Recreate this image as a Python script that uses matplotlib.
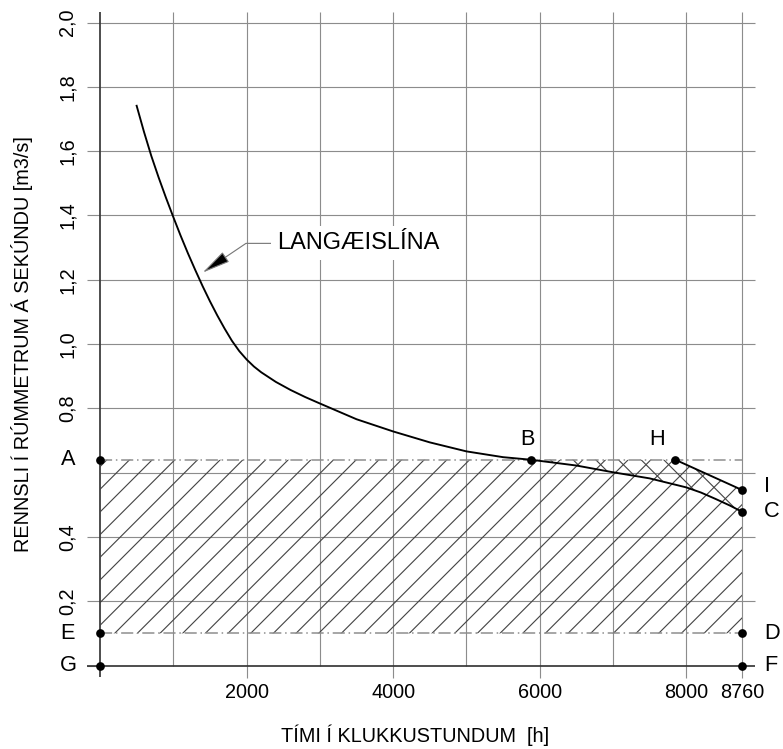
import numpy as np
import matplotlib.pyplot as plt

plt.rcParams['font.family'] = ['Liberation Sans', 'DejaVu Sans']
plt.rcParams['hatch.linewidth'] = 0.6

# duration curve (hours, m3/s)
hours = [500, 600, 700, 800, 900, 1000, 1100, 1200, 1300, 1400, 1500, 1600,
         1700, 1800, 1900, 2000, 2100, 2200, 2400, 2600, 2800, 3000, 3500, 4000,
         4500, 5000, 5500, 5880, 6500, 7000, 7500, 8000, 8200, 8400, 8600, 8760]
flow = [1.741, 1.66, 1.585, 1.518, 1.455, 1.395, 1.337, 1.282, 1.23, 1.18,
        1.133, 1.089, 1.048, 1.01, 0.978, 0.952, 0.93, 0.912, 0.882, 0.857,
        0.835, 0.815, 0.766, 0.728, 0.694, 0.666, 0.648, 0.64, 0.622, 0.601,
        0.582, 0.554, 0.538, 0.518, 0.497, 0.478]

level_A = 0.64     # A - B - H
level_E = 0.10     # E - D
level_I = 0.546    # I
t_B = 5880
t_H = 7850
t_end = 8760

grid_x = [1000, 2000, 3000, 4000, 5000, 6000, 7000, 8000, 8760]
grid_y = [0.2, 0.4, 0.6, 0.8, 1.0, 1.2, 1.4, 1.6, 1.8, 2.0]
xtick_vals = [2000, 4000, 6000, 8000, 8760]
xtick_labels = ['2000', '4000', '6000', '8000', '8760']
ytick_vals = [0.0, 0.2, 0.4, 0.8, 1.0, 1.2, 1.4, 1.6, 1.8, 2.0]
ytick_labels = ['', '0,2', '0,4', '0,8', '1,0', '1,2', '1,4', '1,6', '1,8', '2,0']

DPI = 136
W, H = 783, 749
fig = plt.figure(figsize=(W / DPI, H / DPI), dpi=DPI)
ax = fig.add_axes([100 / W, 1 - 665.5 / H, 642 / W, 643 / H])
ax.set_xlim(0, t_end)
ax.set_ylim(0, 2.0)
for s in ax.spines.values():
    s.set_visible(False)

px_x = t_end / 642.0
px_y = 2.0 / 643.0
pt = 72.0 / DPI
grid_c = '#8c8c8c'

# grid and axis lines (CAD style, overshooting the frame)
ax.hlines(grid_y, 0, t_end + 13 * px_x, colors=grid_c, lw=0.6, clip_on=False, zorder=1)
ax.vlines(grid_x, 0, 2.0 + 10.5 * px_y, colors=grid_c, lw=0.6, clip_on=False, zorder=1)
ax.vlines(0, -11.5 * px_y, 2.0 + 10.5 * px_y, colors='#333333', lw=0.9, clip_on=False, zorder=2)
ax.hlines(0, -13 * px_x, t_end + 13 * px_x, colors='#333333', lw=0.9, clip_on=False, zorder=2)

ax.set_xticks(xtick_vals, xtick_labels, fontsize=10.5)
ax.set_yticks(ytick_vals, ytick_labels, fontsize=10.5, rotation=90, va='center')
ax.tick_params(axis='x', length=12 * pt, width=0.6, color=grid_c, pad=5 * pt)
ax.tick_params(axis='y', length=13 * pt, width=0.6, color=grid_c, pad=10 * pt)

# hatched areas
ax.fill_between([0, t_H, t_end], level_E, [level_A, level_A, level_I],
                facecolor='none', edgecolor='#444444', hatch='//', linewidth=0, zorder=2)
tail = [i for i, h in enumerate(hours) if h >= t_B]
poly_x = [hours[i] for i in tail] + [t_end, t_H]
poly_y = [flow[i] for i in tail] + [level_I, level_A]
ax.fill(poly_x, poly_y, facecolor='none', edgecolor='#444444', hatch='\\\\',
        linewidth=0, zorder=2)

# dash-dot levels
dash = (0, (8, 2.5, 1, 2.5))
ax.hlines([level_A, level_E], 0, t_end, colors='#8c8c8c', lw=0.8, linestyles=[dash], zorder=3)

# curve and H-I line
ax.plot(hours, flow, color='black', lw=1.0, zorder=4)
ax.plot([t_H, t_end], [level_A, level_I], color='black', lw=1.0, zorder=4)

# points
pts_x = [0, 0, 0, t_B, t_H, t_end, t_end, t_end, t_end]
pts_y = [level_A, level_E, 0, level_A, level_A, level_I, flow[-1], level_E, 0]
ax.plot(pts_x, pts_y, 'o', color='black', ms=3.6, clip_on=False, zorder=5)

fs_letter = 11.5
for name, yv in [('A', level_A), ('E', level_E), ('G', 0)]:
    ax.annotate(name, (0, yv), xytext=(-32 * pt, 0), textcoords='offset points',
                ha='center', va='center', fontsize=fs_letter, annotation_clip=False)
for name, yv, dy in [('I', level_I, 3), ('C', flow[-1], 0), ('D', level_E, 0), ('F', 0, 0)]:
    ax.annotate(name, (t_end, yv), xytext=(22 * pt, dy * pt), textcoords='offset points',
                ha='left', va='center', fontsize=fs_letter, annotation_clip=False)
ax.annotate('B', (t_B, level_A), xytext=(-3 * pt, 20 * pt), textcoords='offset points',
            ha='center', va='center', fontsize=fs_letter)
ax.annotate('H', (t_H, level_A), xytext=(-18 * pt, 20 * pt), textcoords='offset points',
            ha='center', va='center', fontsize=fs_letter)

# leader to the curve
ax.annotate('LANGÆISLÍNA', xy=(1400, 1.222), xytext=(2420, 1.313),
            ha='left', va='center', fontsize=12.5, zorder=6,
            bbox=dict(boxstyle='square,pad=0.25', fc='white', ec='none'),
            arrowprops=dict(arrowstyle='-|>,head_length=1.3,head_width=0.27',
                            connectionstyle='angle,angleA=180,angleB=34,rad=0',
                            relpos=(0, 0.5), ec='#777777', fc='black', lw=0.6,
                            shrinkA=0, shrinkB=0, mutation_scale=10))

fig.text(415 / W, 1 - 735 / H, 'TÍMI Í KLUKKUSTUNDUM  [h]', ha='center', va='center',
         fontsize=10.5)
fig.text(22 / W, 1 - 344 / H, 'RENNSLI Í RÚMMETRUM Á SEKÚNDU [m3/s]', ha='center',
         va='center', rotation=90, fontsize=10.5)

fig.savefig('out.png', dpi=DPI)
